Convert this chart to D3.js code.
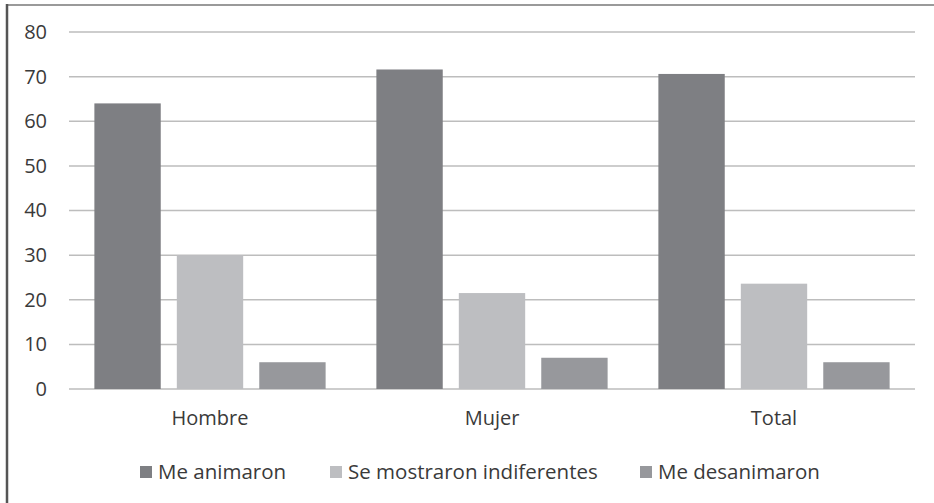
<!DOCTYPE html>
<html>
<head>
<meta charset="utf-8">
<style>
  body { margin: 0; background: #fff; }
  svg { display: block; }
</style>
</head>
<body>
<script src="https://cdn.jsdelivr.net/npm/d3@7"></script>
<script>
// values
var categories = ['Hombre', 'Mujer', 'Total'];
var seriesNames = ['Me animaron', 'Se mostraron indiferentes', 'Me desanimaron'];
var animaron = [64, 71.6, 70.6];
var indiferentes = [30, 21.5, 23.6];
var desanimaron = [6, 7, 6];
var yTicks = [0, 10, 20, 30, 40, 50, 60, 70, 80];
var colors = ['#7e7f83', '#bdbec1', '#97989c'];

var seriesValues = [animaron, indiferentes, desanimaron];

var width = 934, height = 503;
var plot = { left: 69, right: 915, top: 32, bottom: 389 };
var textColor = '#3a3a3a';

var svg = d3.select('body').append('svg')
    .attr('width', width)
    .attr('height', height);

// outer frame (top and left edges only, as in the scan)
svg.append('line')
    .attr('x1', 6).attr('x2', width).attr('y1', 5).attr('y2', 5)
    .attr('stroke', '#9a9a9a').attr('stroke-width', 2);
svg.append('line')
    .attr('x1', 7).attr('x2', 7).attr('y1', 4).attr('y2', height)
    .attr('stroke', '#555').attr('stroke-width', 2.5);

var yScale = d3.scaleLinear()
    .domain([0, 80])
    .range([plot.bottom, plot.top]);

var x0 = d3.scaleBand()
    .domain(categories)
    .range([plot.left, plot.right])
    .paddingInner(0.18)
    .paddingOuter(0.09);

var x1 = d3.scaleBand()
    .domain(seriesNames)
    .range([0, x0.bandwidth()])
    .paddingInner(0.195);

// gridlines
svg.append('g')
    .selectAll('line')
    .data(yTicks)
    .enter().append('line')
    .attr('x1', plot.left).attr('x2', plot.right)
    .attr('y1', function (d) { return yScale(d); })
    .attr('y2', function (d) { return yScale(d); })
    .attr('stroke', '#bdbdbd')
    .attr('stroke-width', 1.5);

// y axis labels
var yAxis = d3.axisLeft(yScale)
    .tickValues(yTicks)
    .tickSize(0)
    .tickPadding(0);
var yg = svg.append('g')
    .attr('transform', 'translate(47,0)')
    .call(yAxis);
yg.select('.domain').remove();
yg.selectAll('text')
    .attr('font-family', 'Open Sans')
    .attr('font-size', 20)
    .attr('fill', textColor);

// bars
var groups = svg.append('g')
    .selectAll('g')
    .data(categories)
    .enter().append('g')
    .attr('transform', function (d) { return 'translate(' + x0(d) + ',0)'; });

groups.selectAll('rect')
    .data(function (c, i) {
        return seriesNames.map(function (s, j) {
            return { series: s, value: seriesValues[j][i], color: colors[j] };
        });
    })
    .enter().append('rect')
    .attr('x', function (d) { return x1(d.series); })
    .attr('width', x1.bandwidth())
    .attr('y', function (d) { return yScale(d.value); })
    .attr('height', function (d) { return yScale(0) - yScale(d.value); })
    .attr('fill', function (d) { return d.color; });

// x axis labels
var xAxis = d3.axisBottom(x0).tickSize(0).tickPadding(0);
var xg = svg.append('g')
    .attr('transform', 'translate(0,' + (plot.bottom + 22) + ')')
    .call(xAxis);
xg.select('.domain').remove();
xg.selectAll('text')
    .attr('font-family', 'Open Sans')
    .attr('font-size', 20)
    .attr('fill', textColor);

// legend
var legendX = [140, 330, 640];
var legend = svg.append('g')
    .selectAll('g')
    .data(seriesNames)
    .enter().append('g')
    .attr('transform', function (d, i) { return 'translate(' + legendX[i] + ',466)'; });
legend.append('rect')
    .attr('width', 12).attr('height', 12)
    .attr('fill', function (d, i) { return colors[i]; });
legend.append('text')
    .attr('x', 18).attr('y', 13)
    .attr('font-family', 'Open Sans')
    .attr('font-size', 20.5)
    .attr('fill', textColor)
    .text(function (d) { return d; });
</script>
</body>
</html>
